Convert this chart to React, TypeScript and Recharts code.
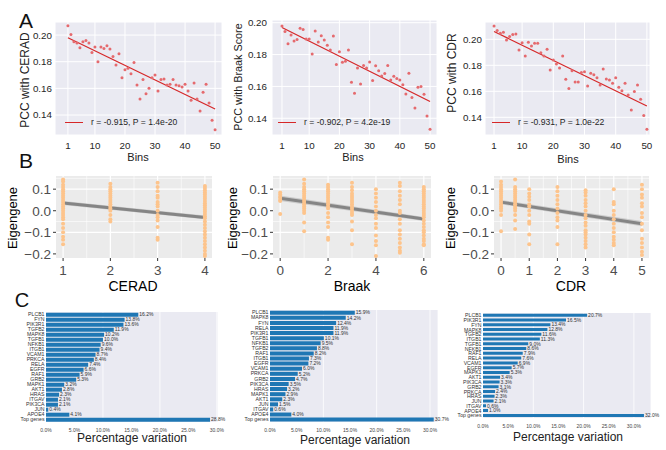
import type { ReactNode } from "react";
import {
  Area,
  Bar,
  BarChart,
  CartesianGrid,
  ComposedChart,
  LabelList,
  Line,
  Scatter,
  XAxis,
  YAxis,
} from "recharts";

const FONT = "'Liberation Sans', Arial, Helvetica, sans-serif";

// ---- A: PCC of each bin with the clinical score
const ceradPcc = [
  0.207, 0.2005, 0.195, 0.194, 0.1905, 0.195, 0.196, 0.194, 0.187, 0.191,
  0.18, 0.191, 0.19, 0.192, 0.1895, 0.184, 0.1775, 0.186, 0.168, 0.174,
  0.175, 0.171, 0.1795, 0.1625, 0.152, 0.1667, 0.156, 0.16, 0.168, 0.17,
  0.158, 0.1667, 0.167, 0.1625, 0.163, 0.1667, 0.1625, 0.162, 0.161, 0.163,
  0.158, 0.151, 0.164, 0.152, 0.143, 0.157, 0.163, 0.149, 0.136, 0.129,
];
const braakPcc = [
  0.198, 0.1945, 0.1868, 0.1923, 0.1885, 0.1895, 0.1965, 0.1958, 0.1897, 0.1897,
  0.1803, 0.1948, 0.1879, 0.1918, 0.1891, 0.1858, 0.1829, 0.1916, 0.1737, 0.1818,
  0.1752, 0.1758, 0.1829, 0.1626, 0.1557, 0.1716, 0.1615, 0.1731, 0.1716, 0.1754,
  0.1637, 0.1729, 0.1699, 0.1666, 0.1681, 0.1731, 0.1641, 0.1664, 0.1649, 0.1641,
  0.1611, 0.1553, 0.1683, 0.153, 0.1465, 0.1595, 0.1599, 0.1551, 0.1415, 0.1331,
];
const cdrPcc = [
  0.2103, 0.2067, 0.2046, 0.2054, 0.1995, 0.2021, 0.2036, 0.2041, 0.1918, 0.1974,
  0.1872, 0.1977, 0.1949, 0.1969, 0.1969, 0.1897, 0.1872, 0.1923, 0.1764, 0.1841,
  0.181, 0.1779, 0.1872, 0.1692, 0.1621, 0.1759, 0.1672, 0.1672, 0.1744, 0.1751,
  0.1641, 0.1738, 0.1728, 0.1705, 0.1649, 0.1772, 0.1695, 0.1687, 0.1662, 0.1705,
  0.1631, 0.1605, 0.1662, 0.1572, 0.1456, 0.1598, 0.1649, 0.1539, 0.1413, 0.1308,
];
const binTicks = [1, 10, 20, 30, 40, 50];
const pccTicks = [0.14, 0.16, 0.18, 0.2];
// regression line at first and last bin
const fitBins = [1, 50];
const ceradPccFit = [0.198, 0.1445];
const braakPccFit = [0.197, 0.1505];
const cdrPccFit = [0.206, 0.1487];

// ---- B: module eigengene per sample, grouped by score
const ceradLevels = [1, 2, 3, 4];
const ceradEigen = [
  [0.145, 0.135, 0.12, 0.11, 0.1, 0.09, 0.08, 0.07, 0.06, 0.05, 0.04, 0.03, 0.02, 0.01, 0.0, -0.01, -0.02, -0.03, -0.04, -0.06, -0.08, -0.1, -0.12, -0.135, -0.155],
  [0.125, 0.11, 0.1, 0.09, 0.08, 0.07, 0.06, 0.05, 0.04, 0.03, 0.02, 0.01, 0.0, -0.02, -0.04, -0.05],
  [0.13, 0.11, 0.09, 0.07, 0.06, 0.04, 0.03, 0.02, 0.0, -0.02, -0.03, -0.045, -0.075, -0.125, -0.135],
  [0.115, 0.105, 0.095, 0.085, 0.075, 0.065, 0.055, 0.045, 0.035, 0.025, 0.015, 0.005, -0.005, -0.015, -0.025, -0.035, -0.05, -0.065, -0.08, -0.095, -0.11, -0.125, -0.14, -0.155, -0.17, -0.185, -0.2, -0.21],
];
const ceradEigenFit = [0.036, -0.031];
const ceradEigenCi = [0.009, 0.009];

const braakLevels = [0, 1, 2, 3, 4, 5, 6];
const braakEigen = [
  [0.085, 0.075, 0.065, 0.06, 0.05, 0.045, -0.015],
  [0.145, 0.125, 0.11, 0.1, 0.09, 0.08, 0.07, 0.06, 0.05, 0.04, 0.03, 0.02, 0.01, 0.0, -0.01, -0.055, -0.095],
  [0.12, 0.11, 0.1, 0.09, 0.08, 0.07, 0.06, 0.05, 0.04, 0.03, 0.02, 0.01, -0.01, -0.03, -0.055, -0.075, -0.125, -0.135],
  [0.13, 0.11, 0.095, 0.08, 0.07, 0.06, 0.05, 0.04, 0.03, 0.02, 0.01, 0.0, -0.01, -0.02, -0.05, -0.09, -0.155],
  [0.1, 0.08, 0.06, 0.04, 0.02, 0.0, -0.02, -0.035, -0.06, -0.08, -0.115, -0.14, -0.16, -0.21],
  [0.13, 0.115, 0.09, 0.07, 0.05, 0.03, 0.0, -0.01, -0.04, -0.06, -0.09, -0.11, -0.13, -0.15, -0.17, -0.185, -0.195],
  [0.11, 0.1, 0.09, 0.08, 0.07, 0.06, 0.05, 0.04, 0.03, 0.02, 0.01, 0.0, -0.01, -0.02, -0.03, -0.045, -0.06, -0.075, -0.09, -0.1, -0.115, -0.13, -0.14, -0.155, -0.16],
];
const braakEigenFit = [0.058, -0.038];
const braakEigenCi = [0.013, 0.009];

const cdrLevels = [0, 0.5, 1, 2, 3, 4, 5];
const cdrEigen = [
  [0.135, 0.12, 0.11, 0.1, 0.09, 0.08, 0.07, 0.06, 0.05, 0.04, 0.03, 0.02, 0.01, 0.0, -0.02, -0.095],
  [0.145, 0.11, 0.1, 0.09, 0.08, 0.07, 0.06, 0.05, 0.04, 0.03, 0.02, 0.01, 0.0, -0.02, -0.045, -0.085],
  [0.1, 0.08, 0.065, 0.05, 0.03, 0.02, 0.0, -0.02, -0.05, -0.06, -0.11, -0.155],
  [0.11, 0.09, 0.07, 0.05, 0.03, 0.01, -0.01, -0.03, -0.045, -0.075, -0.155],
  [0.095, 0.085, 0.07, 0.05, 0.035, 0.02, 0.0, -0.02, -0.035, -0.055, -0.07, -0.09, -0.1, -0.11, -0.125, -0.14, -0.155, -0.17],
  [0.1, 0.04, 0.03, 0.0, -0.02, -0.04, -0.06, -0.08, -0.1, -0.12, -0.135, -0.15, -0.16],
  [0.12, 0.1, 0.075, 0.06, 0.035, 0.02, -0.01, -0.03, -0.06, -0.09, -0.13, -0.15, -0.17, -0.19, -0.205],
];
const cdrEigenFit = [0.04, -0.06];
const cdrEigenCi = [0.01, 0.012];

const eigenTicks = [-0.2, -0.1, 0, 0.1];
const eigenMinor = [-0.15, -0.05, 0.05, 0.15];

// ---- C: percentage variation explained per gene
const genesCerad = ["PLCB1", "FYN", "PIK3R1", "TGFB2", "MAPK8", "TGFB1", "NFKB1", "ITGB1", "VCAM1", "PRKCA", "RELA", "EGFR", "RAF1", "GRB2", "MAPK1", "AKT1", "HRAS", "ITGAV", "PIK3CA", "JUN", "APOE4", "Top genes"];
const pctCerad = [16.2, 13.8, 13.6, 11.9, 10.2, 10.0, 9.6, 9.4, 8.7, 8.4, 7.4, 6.6, 5.9, 5.3, 3.2, 2.8, 2.3, 2.1, 2.1, 0.4, 4.1, 28.8];
const genesBraak = ["PLCB1", "MAPK8", "FYN", "RELA", "PIK3R1", "TGFB1", "NFKB1", "TGFB2", "RAF1", "ITGB1", "EGFR", "VCAM1", "PRKCA", "GRB2", "PIK3CA", "HRAS", "MAPK1", "AKT1", "JUN", "ITGAV", "APOE4", "Top genes"];
const pctBraak = [15.9, 14.2, 12.4, 11.9, 11.9, 10.1, 9.5, 8.8, 8.2, 7.3, 7.2, 6.0, 5.2, 4.7, 3.5, 3.2, 2.9, 2.3, 1.5, 0.6, 4.0, 30.7];
const genesCdr = ["PLCB1", "PIK3R1", "FYN", "MAPK8", "TGFB2", "ITGB1", "TGFB1", "NFKB1", "RAF1", "RELA", "VCAM1", "EGFR", "MAPK1", "AKT1", "PIK3CA", "GRB2", "PRKCA", "HRAS", "JUN", "ITGAV", "APOE4", "Top genes"];
const pctCdr = [20.7, 16.5, 13.4, 12.8, 11.6, 11.3, 9.0, 8.6, 7.9, 7.6, 6.9, 5.7, 5.3, 3.4, 3.3, 3.1, 2.4, 2.3, 2.1, 0.6, 1.0, 32.0];
const pctTicks = [0, 5, 10, 15, 20, 25, 30];

const dot = (r: number, fill: string) => (props: any) =>
  <circle cx={props.cx} cy={props.cy} r={r} fill={fill} />;

// plain svg tick so recharts does not wrap the small gene names
const geneTick = (props: any) => (
  <text x={props.x} y={props.y} dy="0.35em" textAnchor="end" fontSize={5.2} fill="#333">
    {props.payload.value}
  </text>
);

function Txt({ x, y, size, rotate, color = "#222", children }: { x: number; y: number; size: number; rotate?: number; color?: string; children: ReactNode }) {
  return (
    <div
      style={{
        position: "absolute",
        left: x,
        top: y,
        transform: `translate(-50%, -50%)${rotate ? ` rotate(${rotate}deg)` : ""}`,
        fontSize: size,
        lineHeight: 1,
        whiteSpace: "nowrap",
        color,
      }}
    >
      {children}
    </div>
  );
}

function PccPanel(p: any) {
  const points = p.values.map((v: number, i: number) => ({ x: i + 1, y: v }));
  const fitData = fitBins.map((b, i) => ({ x: b, y: p.fit[i] }));
  return (
    <div style={{ position: "absolute", left: p.left, top: 0 }}>
      <ComposedChart
        width={p.width}
        height={165}
        data={fitData}
        margin={{ top: p.top, right: p.right, bottom: 0, left: 0 }}
      >
        <CartesianGrid fill="#EAEAF2" stroke="#fff" strokeWidth={1} />
        <XAxis
          type="number"
          dataKey="x"
          domain={p.xDomain}
          ticks={binTicks}
          allowDataOverflow
          height={30}
          axisLine={false}
          tickLine={false}
          tickSize={0}
          tickMargin={7}
          tick={{ fill: "#262626", fontSize: 9.8 }}
        />
        <YAxis
          type="number"
          dataKey="y"
          domain={p.yDomain}
          ticks={pccTicks}
          allowDataOverflow
          width={p.yAxisWidth}
          axisLine={false}
          tickLine={false}
          tickSize={0}
          tickMargin={p.yTickMargin}
          tickFormatter={(v: number) => v.toFixed(2)}
          tick={{ fill: "#262626", fontSize: 9.8 }}
        />
        <Scatter data={points} shape={dot(1.5, "#E56A6E")} isAnimationActive={false} />
        <Line dataKey="y" stroke="#D62728" strokeWidth={1.2} dot={false} isAnimationActive={false} />
      </ComposedChart>
    </div>
  );
}

const fmtEigen = (v: number) => v.toFixed(1).replace("-", "\u2212");

function EigenPanel(p: any) {
  const points = p.levels.flatMap((lv: number, i: number) =>
    p.groups[i].map((v: number) => ({ x: lv, y: v }))
  );
  const ends = [p.levels[0], p.levels[p.levels.length - 1]];
  const fitData = ends.map((x: number, i: number) => ({
    x,
    y: p.fit[i],
    band: [p.fit[i] - p.ci[i], p.fit[i] + p.ci[i]],
  }));
  return (
    <div style={{ position: "absolute", left: p.left, top: 165 }}>
      <ComposedChart
        width={p.width}
        height={130}
        data={fitData}
        margin={{ top: 11, right: p.right, bottom: 0, left: 0 }}
      >
        <CartesianGrid
          fill="#EBEBEB"
          stroke="#fff"
          strokeWidth={0.6}
          horizontalValues={eigenMinor}
          verticalValues={p.xMinor}
        />
        <CartesianGrid stroke="#fff" strokeWidth={1.2} horizontalValues={eigenTicks} verticalValues={p.xTicks} />
        <XAxis
          type="number"
          dataKey="x"
          domain={p.xDomain}
          ticks={p.xTicks}
          allowDataOverflow
          height={37}
          axisLine={false}
          tickLine={{ stroke: "#333" }}
          tickSize={3}
          tickMargin={4}
          tick={{ fill: "#4D4D4D", fontSize: 13.5 }}
        />
        <YAxis
          type="number"
          dataKey="y"
          domain={[-0.219, 0.161]}
          ticks={eigenTicks}
          allowDataOverflow
          width={p.yAxisWidth}
          axisLine={false}
          tickLine={{ stroke: "#333" }}
          tickSize={3}
          tickMargin={2}
          tickFormatter={fmtEigen}
          tick={{ fill: "#4D4D4D", fontSize: 13.5 }}
        />
        <Scatter data={points} shape={dot(2, "#FDC48C")} isAnimationActive={false} />
        <Area dataKey="band" stroke="none" fill="#B0B0B0" fillOpacity={0.55} isAnimationActive={false} />
        <Line dataKey="y" stroke="#858585" strokeWidth={3} dot={false} isAnimationActive={false} />
      </ComposedChart>
    </div>
  );
}

function PctPanel(p: any) {
  const data = p.genes.map((gene: string, i: number) => ({ gene, pct: p.pct[i] }));
  return (
    <div style={{ position: "absolute", left: p.left, top: 300 }}>
      <BarChart
        layout="vertical"
        width={p.width}
        height={150}
        data={data}
        margin={{ top: p.top, right: p.right, bottom: 0, left: 0 }}
        barCategoryGap="14%"
      >
        <CartesianGrid horizontal={false} fill="#EAEAF2" stroke="#fff" strokeWidth={0.8} />
        <XAxis
          type="number"
          domain={[0, p.xMax]}
          ticks={pctTicks}
          allowDataOverflow
          height={p.xHeight}
          axisLine={false}
          tickLine={false}
          tickSize={0}
          tickMargin={6}
          tickFormatter={(v: number) => `${v.toFixed(1)}%`}
          tick={{ fill: "#444", fontSize: 5 }}
        />
        <YAxis
          type="category"
          dataKey="gene"
          width={p.yAxisWidth}
          interval={0}
          axisLine={false}
          tickLine={false}
          tickSize={0}
          tickMargin={1.5}
          tick={geneTick}
        />
        <Bar dataKey="pct" fill="#1F77B4" isAnimationActive={false}>
          <LabelList
            dataKey="pct"
            position="right"
            offset={1}
            formatter={(v: any) => `${Number(v).toFixed(1)}%`}
            fontSize={5}
            fill="#333"
          />
        </Bar>
      </BarChart>
    </div>
  );
}

function Legend({ x, text }: { x: number; text: string }) {
  return (
    <div style={{ position: "absolute", left: x, top: 117, display: "flex", alignItems: "center", fontSize: 8.6, color: "#262626", whiteSpace: "nowrap" }}>
      <span style={{ display: "inline-block", width: 18, height: 0, borderTop: "1.2px solid #D62728", marginRight: 8 }} />
      {text}
    </div>
  );
}

export default function App() {
  return (
    <div
      style={{
        position: "absolute",
        left: 0,
        top: 0,
        width: 666,
        height: 450,
        background: "#fff",
        overflow: "hidden",
        fontFamily: FONT,
      }}
    >
      <PccPanel left={0} width={230} top={22} right={8} yAxisWidth={55} yTickMargin={3}
        xDomain={[-3.3, 52.3]} yDomain={[0.125, 0.2098]} values={ceradPcc} fit={ceradPccFit} />
      <PccPanel left={220} width={225} top={20} right={8} yAxisWidth={52} yTickMargin={5}
        xDomain={[-2.3, 52.3]} yDomain={[0.1295, 0.2017]} values={braakPcc} fit={braakPccFit} />
      <PccPanel left={440} width={215} top={22} right={5} yAxisWidth={45} yTickMargin={3}
        xDomain={[-1.9, 51]} yDomain={[0.1264, 0.2133]} values={cdrPcc} fit={cdrPccFit} />

      <Legend x={65} text="r = -0.915, P = 1.4e-20" />
      <Legend x={278} text="r = -0.902, P = 4.2e-19" />
      <Legend x={492} text="r = -0.931, P = 1.0e-22" />

      <Txt x={25} y={80} size={12} rotate={-90}>PCC with CERAD</Txt>
      <Txt x={238} y={77} size={10.8} rotate={-90}>PCC with Braak Score</Txt>
      <Txt x={452} y={73} size={12} rotate={-90}>PCC with CDR</Txt>
      <Txt x={138} y={157} size={11}>Bins</Txt>
      <Txt x={353} y={157} size={11}>Bins</Txt>
      <Txt x={568} y={159} size={11}>Bins</Txt>

      <EigenPanel left={0} width={220} right={8} yAxisWidth={56} levels={ceradLevels} groups={ceradEigen}
        fit={ceradEigenFit} ci={ceradEigenCi} xDomain={[0.85, 4.15]} xTicks={[1, 2, 3, 4]} xMinor={[1.5, 2.5, 3.5]} />
      <EigenPanel left={220} width={220} right={9} yAxisWidth={53} levels={braakLevels} groups={braakEigen}
        fit={braakEigenFit} ci={braakEigenCi} xDomain={[-0.3, 6.3]} xTicks={[0, 2, 4, 6]} xMinor={[1, 3, 5]} />
      <EigenPanel left={440} width={216} right={7} yAxisWidth={54} levels={cdrLevels} groups={cdrEigen}
        fit={cdrEigenFit} ci={cdrEigenCi} xDomain={[-0.25, 5.25]} xTicks={[0, 1, 2, 3, 4, 5]} xMinor={[0.5, 1.5, 2.5, 3.5, 4.5]} />

      <Txt x={12} y={218} size={13} rotate={-90} color="#000">Eigengene</Txt>
      <Txt x={232} y={218} size={13} rotate={-90} color="#000">Eigengene</Txt>
      <Txt x={450} y={218} size={13} rotate={-90} color="#000">Eigengene</Txt>
      <Txt x={133} y={286} size={14} color="#000">CERAD</Txt>
      <Txt x={352} y={286} size={14} color="#000">Braak</Txt>
      <Txt x={571} y={286} size={14} color="#000">CDR</Txt>

      <PctPanel left={0} width={240} top={12} right={22} yAxisWidth={46} xHeight={28} xMax={30.2}
        genes={genesCerad} pct={pctCerad} />
      <PctPanel left={222} width={240} top={10} right={24} yAxisWidth={48} xHeight={28} xMax={31.5}
        genes={genesBraak} pct={pctBraak} />
      <PctPanel left={442} width={224} top={13} right={15} yAxisWidth={41} xHeight={32} xMax={33.4}
        genes={genesCdr} pct={pctCdr} />

      <Txt x={132} y={438} size={12}>Percentage variation</Txt>
      <Txt x={355} y={440} size={12}>Percentage variation</Txt>
      <Txt x={568} y={437} size={12}>Percentage variation</Txt>

      <Txt x={26} y={20} size={21} color="#111">A</Txt>
      <Txt x={26} y={160} size={21} color="#111">B</Txt>
      <Txt x={22} y={300} size={20} color="#111">C</Txt>
    </div>
  );
}
